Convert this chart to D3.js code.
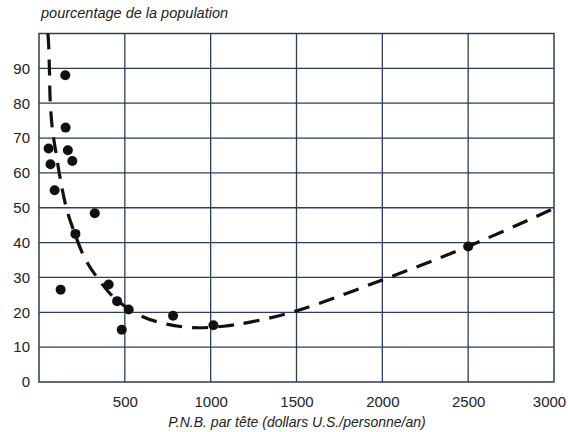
<!DOCTYPE html>
<html><head><meta charset="utf-8">
<script src="https://cdn.jsdelivr.net/npm/d3@7"></script>
<style>body{margin:0;background:#fff}svg{display:block}text{font-family:"Liberation Sans",Arial,sans-serif}</style>
</head><body>
<svg id="c" width="568" height="432"></svg>
<script>
const xTicks = [500, 1000, 1500, 2000, 2500, 3000];
const yTicks = [0, 10, 20, 30, 40, 50, 60, 70, 80, 90];
const pointsX = [153, 155, 56, 168, 67, 194, 91, 325, 212, 126, 406, 455, 522, 482, 781, 1016, 2500];
const pointsY = [88, 73, 67, 66.5, 62.5, 63.4, 55, 48.4, 42.5, 26.5, 28, 23.2, 20.8, 15, 19, 16.3, 38.9];
const curveX = [52, 56, 61, 65, 77, 100, 124, 159, 198, 272, 354, 442, 588, 744, 899, 1075, 1231, 1500, 2000, 2500, 3000];
const curveY = [100, 97, 89, 81, 73, 65.4, 58.3, 50, 44, 35, 29, 24, 19.1, 16.6, 15.6, 16, 17.2, 20.4, 29.3, 38.9, 49.8];

const svg = d3.select("#c");
const L = 39, R = 554, T = 33.5, B = 382;
const x = d3.scaleLinear().domain([0, 3000]).range([L, R]);
const y = d3.scaleLinear().domain([0, 100]).range([B, T]);
const grid = "#2c3d5a";
const font = '"Liberation Sans",Arial,sans-serif';

svg.append("g").selectAll("line").data(yTicks.filter(d => d > 0)).join("line")
  .attr("x1", L).attr("x2", R).attr("y1", d => y(d)).attr("y2", d => y(d))
  .attr("stroke", grid).attr("stroke-width", 1.3);
svg.append("g").selectAll("line").data(xTicks.filter(d => d < 3000)).join("line")
  .attr("y1", T).attr("y2", B).attr("x1", d => x(d)).attr("x2", d => x(d))
  .attr("stroke", grid).attr("stroke-width", 1.3);
svg.append("rect").attr("x", L).attr("y", T).attr("width", R - L).attr("height", B - T)
  .attr("fill", "none").attr("stroke", grid).attr("stroke-width", 1.5);

const xAxis = d3.axisBottom(x).tickValues(xTicks).tickFormat(d3.format("d")).tickSize(0).tickPadding(14);
const gx = svg.append("g").attr("transform", `translate(0,${B})`).call(xAxis);
gx.select(".domain").remove();
gx.selectAll("text").attr("font-size", 15).attr("fill", "#222").attr("font-family", font)
  .attr("dx", d => d === 3000 ? -5 : 0);

const yAxis = d3.axisLeft(y).tickValues(yTicks).tickSize(0).tickPadding(9);
const gy = svg.append("g").attr("transform", `translate(${L},0)`).call(yAxis);
gy.select(".domain").remove();
gy.selectAll("text").attr("font-size", 15).attr("fill", "#222").attr("font-family", font);

const line = d3.line().x((d, i) => x(curveX[i])).y((d, i) => y(curveY[i])).curve(d3.curveCatmullRom.alpha(0.5));
svg.append("path").datum(curveX).attr("d", line)
  .attr("fill", "none").attr("stroke", "#111").attr("stroke-width", 3.2)
  .attr("stroke-dasharray", "16,10");

svg.append("g").selectAll("circle").data(pointsX).join("circle")
  .attr("cx", (d) => x(d)).attr("cy", (d, i) => y(pointsY[i])).attr("r", 5)
  .attr("fill", "#111");

svg.append("text").attr("x", 41).attr("y", 18).attr("font-size", 14.5).attr("font-style", "italic")
  .attr("fill", "#222").text("pourcentage de la population");
svg.append("text").attr("x", 297).attr("y", 427).attr("text-anchor", "middle").attr("font-size", 14)
  .attr("font-style", "italic").attr("fill", "#222").text("P.N.B. par tête (dollars U.S./personne/an)");
</script>
</body></html>
